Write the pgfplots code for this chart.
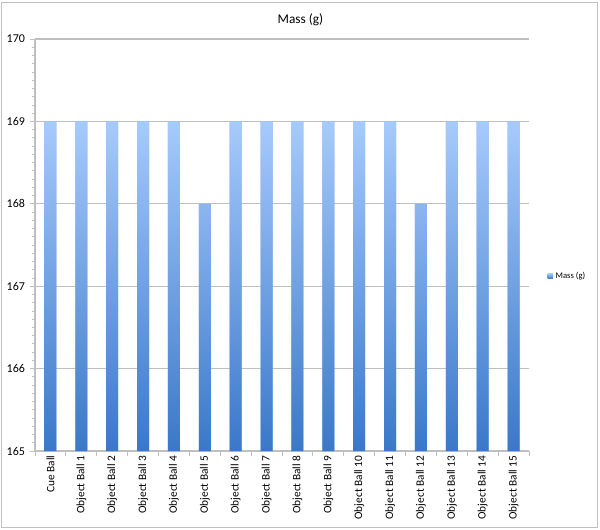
\documentclass[border=0pt]{standalone}
\usepackage{pgfplots}
\pgfplotsset{compat=1.18}
\usepackage{fontspec}
\setmainfont{Carlito}
\definecolor{bartop}{HTML}{A6CAFC}
\definecolor{barbot}{HTML}{3A78C8}
\definecolor{axgray}{HTML}{BFBFBF}
\begin{document}
\begin{tikzpicture}[x=0.75pt,y=0.75pt]
\useasboundingbox (0,0) rectangle (600,529);
\draw[axgray, line width=0.6pt, fill=white] (1,2) rectangle (597,527);
\begin{axis}[
  at={(35pt*0.75,78pt*0.75)}, anchor=south west,
  scale only axis, width=370.5pt, height=309pt,
  xmin=-0.5, xmax=15.5, ymin=165, ymax=170,
  ytick={165,166,...,170},
  minor y tick num=9,
  xtick={-0.5,0.5,...,15.5},
  xticklabels={},
  extra x ticks={0,1,...,15},
  extra x tick labels={Cue Ball,Object Ball 1,Object Ball 2,Object Ball 3,Object Ball 4,Object Ball 5,Object Ball 6,Object Ball 7,Object Ball 8,Object Ball 9,Object Ball 10,Object Ball 11,Object Ball 12,Object Ball 13,Object Ball 14,Object Ball 15},
  extra x tick style={major tick length=0pt, grid=none,
    tick label style={rotate=90, anchor=east, font=\fontsize{8.5}{10}\selectfont, text=black}},
  axis x line*=bottom, axis y line*=left,
  axis line style={axgray, line width=0.8pt},
  every outer x axis line/.append style={-}, every outer y axis line/.append style={-},
  tick style={axgray, line width=0.6pt},
  major tick length=4pt, minor tick length=2.5pt,
  tick align=outside,
  ymajorgrids, grid style={axgray, line width=1pt},
  yticklabel style={font=\fontsize{9}{10}\selectfont, text=black},
  /pgf/number format/assume math mode=true,
  title={Mass (g)}, title style={font=\fontsize{10}{12}\selectfont, at={(0.5374,1)}, yshift=0pt},
  legend style={at={(511pt*0.75,175pt*0.75)}, anchor=west, draw=none, fill=none, font=\fontsize{6.5}{8}\selectfont, inner sep=1pt},
  legend image code/.code={\fill[#1] (0pt,-2pt) rectangle (4pt,2pt);},
  legend cell align=left,
  clip=false,
]
\addplot[ybar, bar width=9pt, bar shift=0pt, draw=none, top color=bartop, bottom color=barbot, fill=bartop!70!barbot]
coordinates {(0,169) (1,169) (2,169) (3,169) (4,169) (5,168) (6,169) (7,169) (8,169) (9,169) (10,169) (11,169) (12,168) (13,169) (14,169) (15,169)};
\addlegendentry{Mass (g)}
\end{axis}
\end{tikzpicture}
\end{document}
